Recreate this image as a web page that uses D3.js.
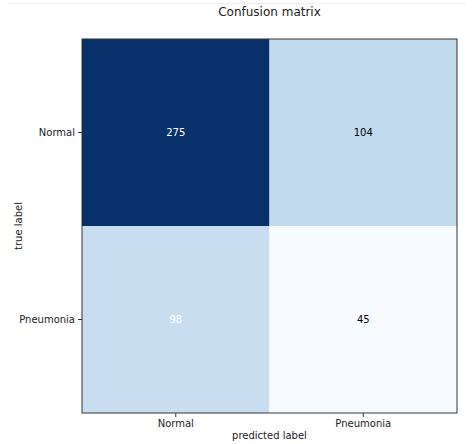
<!DOCTYPE html>
<html><head><meta charset="utf-8">
<script src="https://cdn.jsdelivr.net/npm/d3@7"></script>
<style>body{margin:0;background:#fff}text{font-family:"DejaVu Sans",sans-serif}</style>
</head><body><svg id="c" width="474" height="444"></svg>
<script>
const categories = ["Normal", "Pneumonia"];
const matrix = [[275, 104], [98, 45]];
const whiteText = [[true, false], [true, false]];

const svg = d3.select("#c");
const m = {l: 82, t: 39, r: 17, b: 31};
const W = 474 - m.l - m.r, H = 444 - m.t - m.b;
svg.append("line").attr("x1",8).attr("x2",466).attr("y1",3.5).attr("y2",3.5).attr("stroke","#eee");
const x = d3.scaleBand().domain(categories).range([m.l, m.l + W]);
const y = d3.scaleBand().domain(categories).range([m.t, m.t + H]);
const flat = matrix.flat();
const color = d3.scaleSequential(d3.interpolateBlues).domain([d3.min(flat), d3.max(flat)]);
const cells = [];
matrix.forEach((row, i) => row.forEach((v, j) => cells.push({r: categories[i], c: categories[j], v, w: whiteText[i][j]})));
svg.selectAll("rect.cell").data(cells).join("rect")
  .attr("x", d => x(d.c)).attr("y", d => y(d.r))
  .attr("width", x.bandwidth()).attr("height", y.bandwidth())
  .attr("fill", d => color(d.v));
svg.selectAll("text.v").data(cells).join("text")
  .attr("x", d => x(d.c) + x.bandwidth()/2).attr("y", d => y(d.r) + y.bandwidth()/2)
  .attr("text-anchor","middle").attr("dominant-baseline","central")
  .attr("font-size", 10).attr("fill", d => d.w ? "#fff" : "#000").text(d => d.v);
svg.append("rect").attr("x", m.l).attr("y", m.t).attr("width", W).attr("height", H)
  .attr("fill","none").attr("stroke","#333").attr("stroke-width",1);
const xa = svg.append("g").attr("transform",`translate(0,${m.t+H})`).call(d3.axisBottom(x).tickSize(4).tickPadding(3));
const ya = svg.append("g").attr("transform",`translate(${m.l},0)`).call(d3.axisLeft(y).tickSize(4).tickPadding(3));
[xa, ya].forEach(a => { a.select(".domain").remove(); a.selectAll("text").attr("font-size",10).attr("fill","#222").style("font-family","DejaVu Sans"); a.selectAll("line").attr("stroke","#333"); });
svg.append("text").attr("x", m.l + W/2).attr("y", 16).attr("text-anchor","middle").attr("font-size",12).attr("fill","#222").text("Confusion matrix");
svg.append("text").attr("x", m.l + W/2).attr("y", 439).attr("text-anchor","middle").attr("font-size",10).attr("fill","#222").text("predicted label");
svg.append("text").attr("transform",`translate(22,${m.t+H/2}) rotate(-90)`).attr("text-anchor","middle").attr("font-size",10).attr("fill","#222").text("true label");
</script></body></html>
